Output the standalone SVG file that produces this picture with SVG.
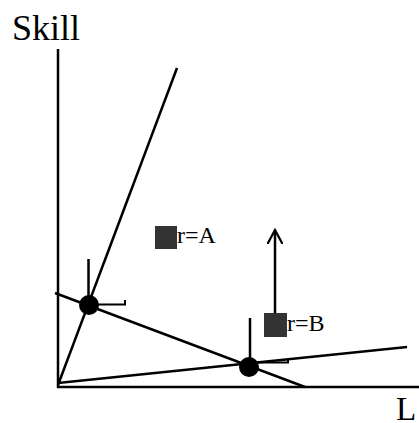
<svg xmlns="http://www.w3.org/2000/svg" width="419" height="423" viewBox="0 0 419 423">
<style>
.ln{stroke:#000;stroke-width:2.5;fill:none;stroke-linecap:butt}
.thin{stroke:#000;stroke-width:2;fill:none}
.dot{fill:#000}
.sq{fill:#333}
.lbl{font-family:"Liberation Serif","Times New Roman",serif;fill:#000}
</style>
<defs>
<marker id="ah" markerWidth="16" markerHeight="16" refX="14" refY="8" orient="auto" markerUnits="userSpaceOnUse" viewBox="0 0 16 16">
<path d="M0,0.5 L14,8 L0,15.5" fill="none" stroke="#000" stroke-width="2.2"/>
</marker>
</defs>
<rect width="419" height="423" fill="#fff"/>
<g id="connectors">
<line class="ln" x1="58" y1="49" x2="58" y2="388"/>
<line class="ln" x1="57" y1="387" x2="419" y2="387"/>
<line class="ln" x1="58" y1="385" x2="177" y2="68"/>
<line class="ln" x1="58" y1="383" x2="407" y2="347"/>
<line class="ln" x1="55" y1="293" x2="305" y2="387"/>
<line class="ln" x1="88.5" y1="259" x2="88.5" y2="304"/>
<polyline class="thin" points="89,304.5 125,304.5 125,300"/>
<line class="ln" x1="250" y1="318" x2="250" y2="366"/>
<polyline class="thin" points="249,362.5 288,362.5 288,358"/>
<line class="ln" x1="275" y1="313" x2="275" y2="230" marker-end="url(#ah)"/>
</g>
<g id="eq1"><circle class="dot" cx="89" cy="305" r="10"/></g>
<g id="eq2"><circle class="dot" cx="249" cy="367" r="10"/></g>
<g id="rA"><rect class="sq" x="155" y="226" width="22" height="23"/><text class="lbl" x="177" y="243" font-size="24">r=A</text></g>
<g id="rB"><rect class="sq" x="264" y="313" width="23" height="24"/><text class="lbl" x="287" y="331" font-size="24">r=B</text></g>
<g id="yaxis-label"><text class="lbl" x="12" y="40" font-size="36">Skill</text></g>
<g id="xaxis-label"><text class="lbl" x="396" y="420" font-size="33">L</text></g>
</svg>
